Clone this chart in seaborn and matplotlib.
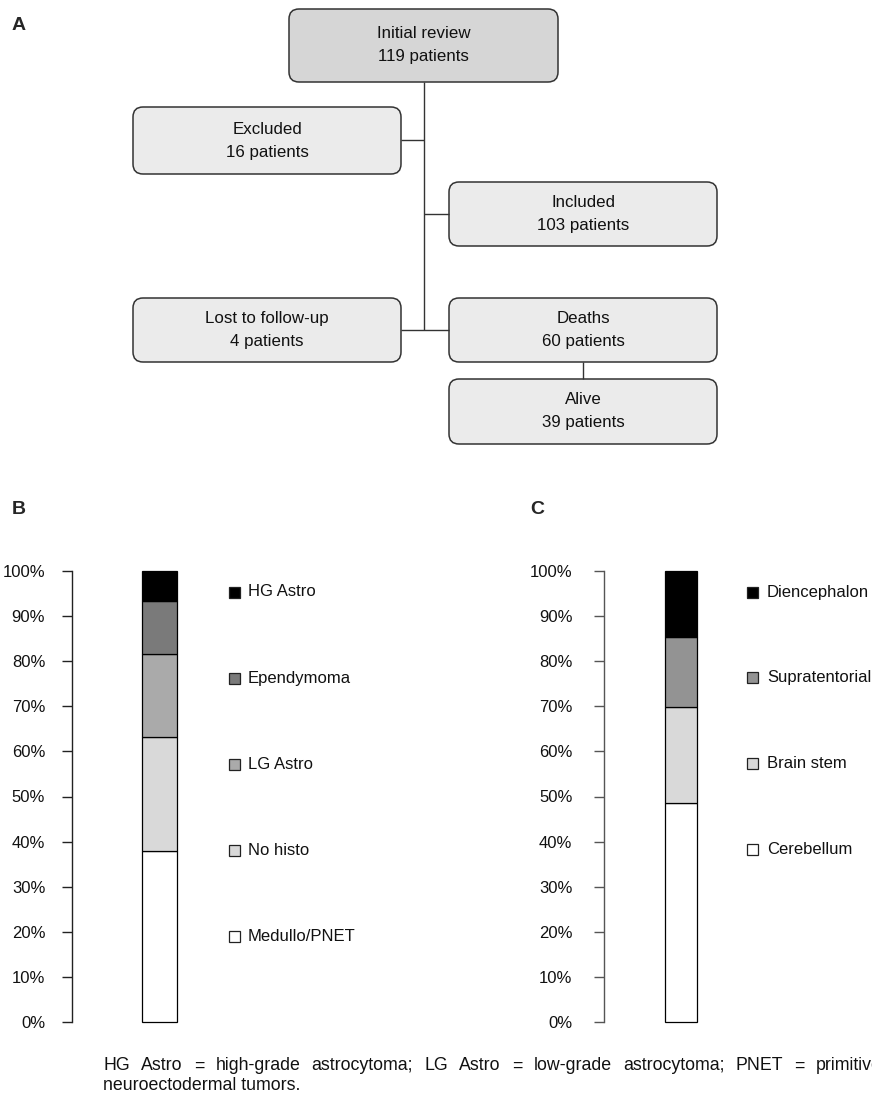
import matplotlib
matplotlib.use("Agg")
import matplotlib.pyplot as plt
from matplotlib.patches import FancyBboxPatch, Rectangle
import seaborn as sns

# ---------------- data ----------------
flow_labels = ["Initial review", "Excluded", "Included", "Lost to follow-up", "Deaths", "Alive"]
flow_counts = [119, 16, 103, 4, 60, 39]

hist_cats = ["Medullo/PNET", "No histo", "LG Astro", "Ependymoma", "HG Astro"]
hist_pct = [37.9, 25.2, 18.4, 11.7, 6.8]
hist_colors = ["#ffffff", "#d9d9d9", "#aaaaaa", "#7a7a7a", "#000000"]

loc_cats = ["Cerebellum", "Brain stem", "Supratentorial", "Diencephalon"]
loc_pct = [48.5, 21.4, 15.5, 14.6]
loc_colors = ["#ffffff", "#d9d9d9", "#939393", "#000000"]

ytick_vals = list(range(0, 101, 10))
ytick_labels = [f"{v}%" for v in ytick_vals]

footnote_line1 = "HG Astro = high-grade astrocytoma; LG Astro = low-grade astrocytoma; PNET = primitive"
footnote_line2 = "neuroectodermal tumors."

# ---------------- style ----------------
sns.set_style("white")
plt.rcParams["font.family"] = ["Liberation Sans", "DejaVu Sans"]

W, H = 872, 1096
fig = plt.figure(figsize=(W / 100, H / 100), dpi=100)
fig.patch.set_facecolor("white")

# overlay in pixel coordinates
bg = fig.add_axes([0, 0, 1, 1])
bg.set_xlim(0, W)
bg.set_ylim(H, 0)
bg.axis("off")

# ---------------- panel A: flowchart ----------------
box_geom = [(289, 9, 558, 82), (133, 107, 401, 174), (449, 182, 717, 246),
            (133, 298, 401, 362), (449, 298, 717, 362), (449, 379, 717, 444)]
box_fill = ["#d6d6d6", "#ebebeb", "#ebebeb", "#ebebeb", "#ebebeb", "#ebebeb"]
edge = "#333333"
for (x0, y0, x1, y1), fc, lab, n in zip(box_geom, box_fill, flow_labels, flow_counts):
    bg.add_patch(FancyBboxPatch((x0, y0), x1 - x0, y1 - y0,
                                boxstyle="round,pad=0,rounding_size=10",
                                fc=fc, ec=edge, lw=1.1))
    cx, cy = (x0 + x1) / 2, (y0 + y1) / 2
    bg.text(cx, cy - 11.5, lab, ha="center", va="center", fontsize=12.2, color="#111111")
    bg.text(cx, cy + 11.5, f"{n} patients", ha="center", va="center", fontsize=12.2, color="#111111")

vx = 423.7
line_kw = dict(color=edge, lw=1.0, solid_capstyle="butt")
bg.plot([vx, vx], [82, 330], **line_kw)
bg.plot([401, vx], [140, 140], **line_kw)
bg.plot([vx, 449], [214, 214], **line_kw)
bg.plot([401, 449], [330, 330], **line_kw)
bg.plot([583, 583], [362, 379], **line_kw)

# panel letters
bg.text(12, 25, "A", fontsize=14, fontweight="bold", va="center", ha="left")
bg.text(12, 510, "B", fontsize=14, fontweight="bold", va="center", ha="left")
bg.text(530, 510, "C", fontsize=14, fontweight="bold", va="center", ha="left")

# ---------------- panels B & C: stacked bars ----------------
Y_TOP, Y_BOT = 570.7, 1022.3


def bar_panel(left_px, right_px, bar_center_px, bar_w_px, cats, pct, colors,
              spine_color, pad):
    ax = fig.add_axes([left_px / W, 1 - Y_BOT / H, (right_px - left_px) / W,
                       (Y_BOT - Y_TOP) / H])
    ax.set_facecolor("none")
    cum = 0.0
    for c, p, col in zip(cats, pct, colors):
        sns.barplot(x=["bar"], y=[p], bottom=cum, color=col, edgecolor="black",
                    linewidth=0.9, width=0.8, saturation=1, ax=ax)
        cum += p
    for patch in ax.patches:
        patch.set_clip_on(False)
    ppu = bar_w_px / 0.8
    ax.set_xlim(-(bar_center_px - left_px) / ppu, (right_px - bar_center_px) / ppu)
    ax.set_ylim(0, 100)
    ax.set_yticks(ytick_vals)
    ax.set_yticklabels(ytick_labels)
    ax.set_xticks([])
    ax.set_xlabel("")
    ax.set_ylabel("")
    for s in ["top", "right", "bottom"]:
        ax.spines[s].set_visible(False)
    ax.spines["left"].set_color(spine_color)
    ax.spines["left"].set_linewidth(1.0)
    ax.tick_params(axis="y", direction="out", length=7, width=1.0, color=spine_color,
                   pad=pad, labelsize=12, labelcolor="#111111", left=True)
    return ax


axB = bar_panel(72.3, 215, 159.35, 35.3, hist_cats, hist_pct, hist_colors, "#222222", 12.5)
axC = bar_panel(603.7, 740, 681.15, 31.7, loc_cats, loc_pct, loc_colors, "#555555", 15.5)

# legends (top entry = top segment)
def legend_column(cats, colors, sq_x, txt_x, y0, dy):
    for i, (cat, col) in enumerate(zip(cats[::-1], colors[::-1])):
        y = y0 + i * dy
        bg.add_patch(Rectangle((sq_x, y - 5.5), 11, 11, fc=col, ec="#222222", lw=0.9))
        bg.text(txt_x, y, cat, va="center", ha="left", fontsize=12, color="#111111")


legend_column(hist_cats, hist_colors, 229, 248, 592, 86.2)
legend_column(loc_cats, loc_colors, 747, 767, 592, 85.8)

# ---------------- footnote (justified first line) ----------------
FN_SIZE = 12.8
renderer = fig.canvas.get_renderer()
words = footnote_line1.split(" ")
widths = []
for w_ in words:
    t = bg.text(0, 0, w_, fontsize=FN_SIZE)
    bb = t.get_window_extent(renderer)
    widths.append(bb.width)
    t.remove()
start_x, last_x = 103, 816
gap = (last_x - start_x - sum(widths[:-1])) / (len(words) - 1)
x = start_x
for w_, wd in zip(words, widths):
    bg.text(x, 1066, w_, fontsize=FN_SIZE, va="center", ha="left", color="#111111")
    x += wd + gap
bg.text(start_x, 1085, footnote_line2, fontsize=FN_SIZE, va="center", ha="left", color="#111111")

fig.savefig("out.png", dpi=100, facecolor="white")
